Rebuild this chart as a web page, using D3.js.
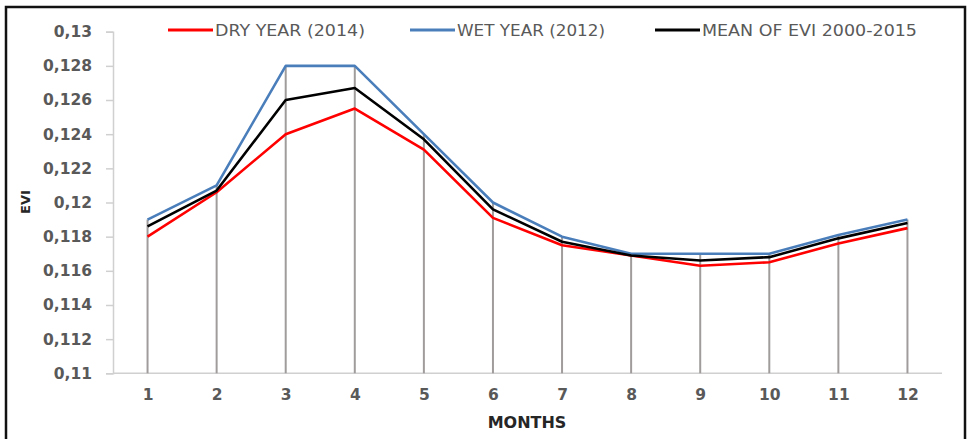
<!DOCTYPE html>
<html><head><meta charset="utf-8">
<script src="https://cdn.jsdelivr.net/npm/d3@7/dist/d3.min.js"></script>
<style>
html,body{margin:0;padding:0;background:#fff;}
svg{display:block;}
</style></head>
<body>
<svg id="chart" width="968" height="439"></svg>
<script>
const months = [1,2,3,4,5,6,7,8,9,10,11,12];
const dryYear = [0.1180,0.1206,0.1240,0.1255,0.1231,0.1191,0.1175,0.1169,0.1163,0.1165,0.1176,0.1185];
const wetYear = [0.1190,0.1210,0.1280,0.1280,0.1240,0.1200,0.1180,0.1170,0.1170,0.1170,0.1181,0.1190];
const meanEvi = [0.1186,0.1207,0.1260,0.1267,0.1237,0.1196,0.1177,0.1169,0.1166,0.1168,0.1179,0.1188];
const yTicks = [0.11,0.112,0.114,0.116,0.118,0.12,0.122,0.124,0.126,0.128,0.13];
const seriesNames = ["DRY YEAR (2014)","WET YEAR (2012)","MEAN OF EVI 2000-2015"];
const seriesColors = ["#ff0000","#4a7ebb","#000000"];

const svg = d3.select("#chart");
const x = d3.scalePoint().domain(months).range([113,942]).padding(0.5);
const y = d3.scaleLinear().domain([0.11,0.13]).range([373.3,31.7]);
const font = "'DejaVu Sans', sans-serif";

// frame
svg.append("rect").attr("x",6).attr("y",7).attr("width",959).attr("height",450)
  .attr("fill","none").attr("stroke","#111").attr("stroke-width",2.5);

// y axis
const yAxis = svg.append("g").attr("transform","translate(113,0)")
  .call(d3.axisLeft(y).tickValues(yTicks).tickSize(7).tickPadding(14)
    .tickFormat(v => String(+v.toFixed(3)).replace(".",",")));
yAxis.select(".domain").attr("stroke","#d0d0d0").attr("stroke-width",1.5);
yAxis.selectAll(".tick line").attr("stroke","#d0d0d0").attr("stroke-width",1.5);
yAxis.selectAll(".tick text").attr("fill","#595959").attr("font-family",font)
  .attr("font-weight","bold").attr("font-size","15.5px");

// x axis
const xAxis = svg.append("g").attr("transform","translate(0,373.3)")
  .call(d3.axisBottom(x).tickSize(0).tickPadding(16));
xAxis.select(".domain").attr("stroke","#d0d0d0").attr("stroke-width",1.5)
  .attr("d","M113,0H942");
xAxis.selectAll(".tick text").attr("fill","#595959").attr("font-family",font)
  .attr("font-weight","bold").attr("font-size","15.5px");

// drop lines
const maxVals = months.map((m,i)=>Math.max(dryYear[i],wetYear[i],meanEvi[i]));
svg.append("g").selectAll("line").data(months).join("line")
  .attr("x1",d=>x(d)).attr("x2",d=>x(d))
  .attr("y1",(d,i)=>y(maxVals[i])).attr("y2",y(0.11))
  .attr("stroke","#a09c9c").attr("stroke-width",2);

// series lines
const seriesData = [dryYear, wetYear, meanEvi];
const line = d3.line().x((d,i)=>x(months[i])).y(d=>y(d));
seriesData.forEach((s,k)=>{
  svg.append("path").datum(s).attr("d",line).attr("fill","none")
    .attr("stroke",seriesColors[k]).attr("stroke-width",2.6)
    .attr("stroke-linejoin","round");
});

// legend
const legX = [168,410,655];
const legW = [150,148,215];
seriesNames.forEach((n,k)=>{
  svg.append("line").attr("x1",legX[k]).attr("x2",legX[k]+45).attr("y1",30).attr("y2",30)
    .attr("stroke",seriesColors[k]).attr("stroke-width",3);
  svg.append("text").attr("x",legX[k]+47).attr("y",36).text(n)
    .attr("font-family",font).attr("font-size","15px").attr("fill","#595959")
    .attr("textLength",legW[k]).attr("lengthAdjust","spacingAndGlyphs");
});

// axis titles
svg.append("text").attr("transform","translate(30,202) rotate(-90)")
  .attr("text-anchor","middle").text("EVI")
  .attr("font-family",font).attr("font-weight","bold").attr("font-size","13px").attr("fill","#262626");
svg.append("text").attr("x",527).attr("y",428).attr("text-anchor","middle").text("MONTHS")
  .attr("font-family",font).attr("font-weight","bold").attr("font-size","16px").attr("fill","#262626");
</script>
</body></html>
